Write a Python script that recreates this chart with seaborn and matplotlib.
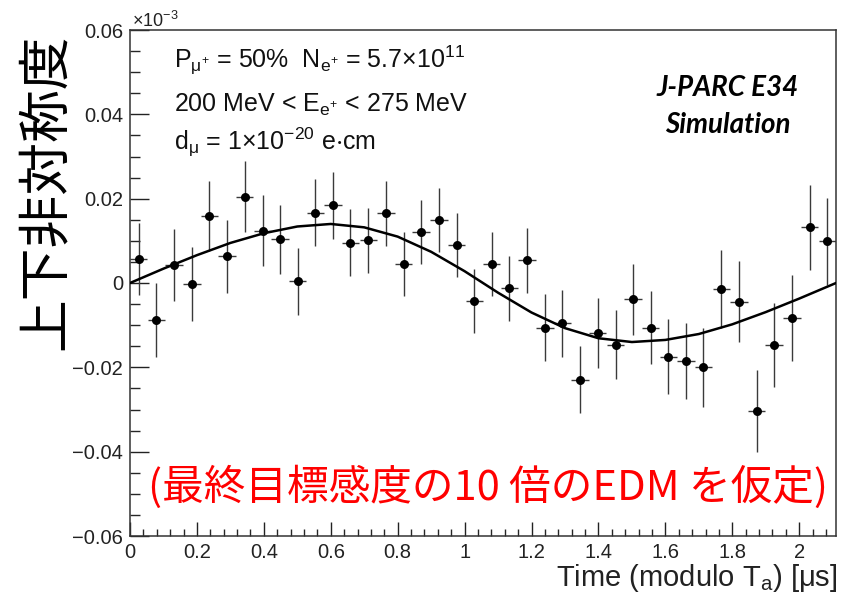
import numpy as np
import matplotlib
matplotlib.use('Agg')
import matplotlib.pyplot as plt
import seaborn as sns
from matplotlib.ticker import MultipleLocator, FuncFormatter

# data (asymmetry shown in units of 1e-3)
time_bins = [0.026, 0.079, 0.132, 0.185, 0.237, 0.290, 0.343, 0.396, 0.448, 0.501,
             0.554, 0.607, 0.659, 0.712, 0.765, 0.818, 0.870, 0.923, 0.976, 1.029,
             1.081, 1.134, 1.187, 1.240, 1.292, 1.345, 1.398, 1.451, 1.503, 1.556,
             1.609, 1.662, 1.714, 1.767, 1.820, 1.873, 1.925, 1.978, 2.031, 2.084]
asym = [0.0057, -0.0087, 0.0043, -0.0002, 0.0159, 0.0063, 0.0205, 0.0124, 0.0104, 0.0004,
        0.0167, 0.0184, 0.0096, 0.0101, 0.0165, 0.0046, 0.0121, 0.0150, 0.0090, -0.0043,
        0.0045, -0.0013, 0.0054, -0.0106, -0.0096, -0.0229, -0.0119, -0.0146, -0.0039, -0.0106,
        -0.0175, -0.0184, -0.0200, -0.0014, -0.0044, -0.0304, -0.0147, -0.0083, 0.0132, 0.0099]
asym_err = [0.0086, 0.0088, 0.0086, 0.0087, 0.0082, 0.0086, 0.0084, 0.0084, 0.0082, 0.0080,
            0.0080, 0.0079, 0.0079, 0.0078, 0.0078, 0.0076, 0.0075, 0.0076, 0.0076, 0.0076,
            0.0077, 0.0077, 0.0077, 0.0079, 0.0080, 0.0080, 0.0083, 0.0082, 0.0085, 0.0086,
            0.0089, 0.0090, 0.0093, 0.0092, 0.0095, 0.0097, 0.0099, 0.0101, 0.0101, 0.0103]
bin_half = 0.026

# fit curve read at fixed times
fit_t = [0.0, 0.1, 0.2, 0.3, 0.4, 0.5, 0.6, 0.7, 0.8, 0.9, 1.0,
         1.1, 1.2, 1.3, 1.4, 1.5, 1.6, 1.7, 1.8, 1.9, 2.0, 2.11]
fit_y = [0.0, 0.0034, 0.0066, 0.0095, 0.0118, 0.0134, 0.0140, 0.0132, 0.0110, 0.0074, 0.0028,
         -0.0023, -0.0070, -0.0107, -0.0131, -0.0140, -0.0135, -0.0121, -0.0098, -0.0069, -0.0037, 0.0]

x_ticks = [0, 0.2, 0.4, 0.6, 0.8, 1.0, 1.2, 1.4, 1.6, 1.8, 2.0]
y_ticks = [-0.06, -0.04, -0.02, 0, 0.02, 0.04, 0.06]

sns.set_style('ticks')
plt.rcParams['font.family'] = ['Liberation Sans', 'Noto Sans CJK JP', 'DejaVu Sans']
plt.rcParams['mathtext.fontset'] = 'custom'
plt.rcParams['mathtext.rm'] = 'Liberation Sans'
plt.rcParams['mathtext.it'] = 'Liberation Sans:italic'
plt.rcParams['mathtext.default'] = 'regular'

W, H = 846, 597
fig = plt.figure(figsize=(W / 100, H / 100), dpi=100)
ax = fig.add_axes([130 / W, 1 - 536 / H, (836 - 130) / W, (536 - 30) / H])

ax.errorbar(time_bins, asym, yerr=asym_err, xerr=bin_half, fmt='none',
            ecolor='#3a3a3a', elinewidth=1.0, capsize=0, zorder=2)
sns.lineplot(x=fit_t, y=fit_y, ax=ax, color='black', linewidth=1.8, zorder=3)
sns.scatterplot(x=time_bins, y=asym, ax=ax, color='black', s=42, edgecolor='black',
                linewidth=0, zorder=4)

ax.set_xlim(0, 2.11)
ax.set_ylim(-0.06, 0.06)
ax.set_xticks(x_ticks)
ax.set_yticks(y_ticks)
ax.xaxis.set_minor_locator(MultipleLocator(0.04))
ax.yaxis.set_minor_locator(MultipleLocator(0.005))


def fmt(v, pos):
    if abs(v) < 1e-9:
        return '0'
    return ('%g' % v).replace('-', '\u2212')


ax.xaxis.set_major_formatter(FuncFormatter(fmt))
ax.yaxis.set_major_formatter(FuncFormatter(fmt))
ax.tick_params(axis='x', which='major', direction='in', length=10, width=1, pad=5,
               labelsize=14.5, colors='#222222', top=False)
ax.tick_params(axis='x', which='minor', direction='in', length=5, width=1, top=False)
ax.tick_params(axis='y', which='major', direction='in', length=14, width=1, pad=5,
               labelsize=14.5, colors='#222222', right=False)
ax.tick_params(axis='y', which='minor', direction='in', length=7, width=1, right=False)
for sp in ax.spines.values():
    sp.set_visible(True)
    sp.set_color('#333333')
    sp.set_linewidth(1.1)
ax.set_xlabel('')
ax.set_ylabel('')

fig.text(132 / W, 1 - 27 / H, r'$\times$10$^{-3}$', fontsize=13, color='#222222', va='baseline')

fig.text(838 / W, 1 - 586 / H, r'Time (modulo T$_{a}$) [$\mu$s]', fontsize=21,
         ha='right', va='baseline', color='#222222')

fig.text(45 / W, 1 - 192 / H, '上下非対称度', rotation=90, ha='center', va='center',
         fontsize=38, family=['Noto Sans CJK JP'], color='black')

fig.text(174 / W, 1 - 68 / H, r'P$_{\mu^{+}}$ = 50%  N$_{e^{+}}$ = 5.7$\times$10$^{11}$',
         fontsize=18, va='baseline', color='#111111')
fig.text(174 / W, 1 - 112 / H, r'200 MeV < E$_{e^{+}}$ < 275 MeV',
         fontsize=18, va='baseline', color='#111111')
fig.text(174 / W, 1 - 150 / H, r'd$_{\mu}$ = 1$\times$10$^{-20}$ e$\cdot$cm',
         fontsize=18, va='baseline', color='#111111')

fig.text(728 / W, 1 - 88 / H, 'J-PARC E34', ha='center', va='center', fontsize=20,
         family=['Lato'], weight='bold', style='italic', color='black')
fig.text(728 / W, 1 - 125 / H, 'Simulation', ha='center', va='center', fontsize=20,
         family=['Lato'], weight='bold', style='italic', color='black')

fig.text(488 / W, 1 - 487 / H, '(最終目標感度の10 倍のEDM を仮定)', ha='center', va='center',
         fontsize=30, family=['Noto Sans CJK JP'], color='#ff0000')

fig.savefig('out.png', dpi=100)
